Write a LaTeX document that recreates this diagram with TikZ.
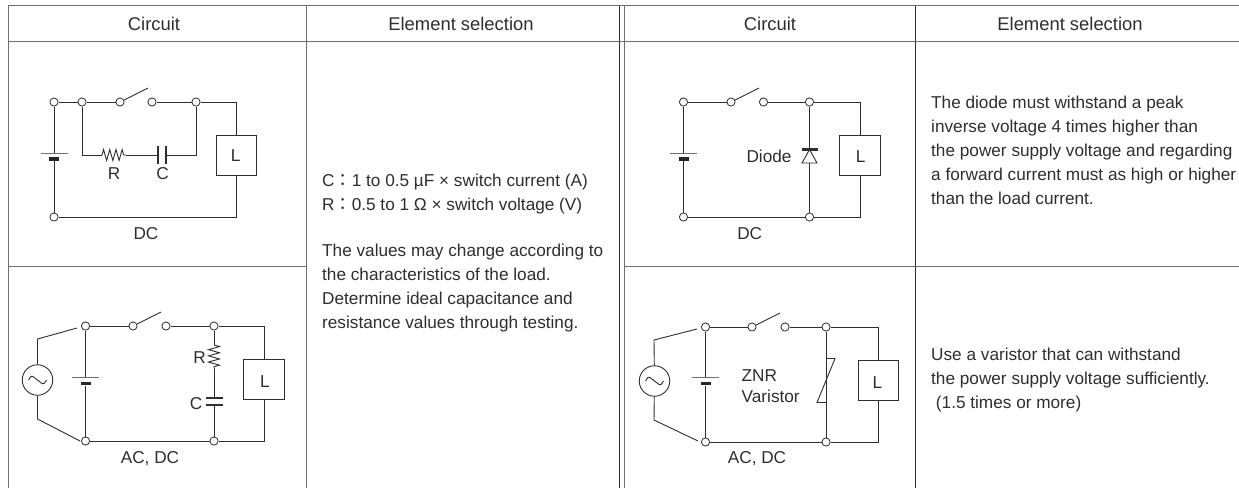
\documentclass[tikz,border=0pt]{standalone}
\usepackage{fontspec}
\setmainfont{Liberation Sans}
\newfontfamily\cjkfont{Noto Sans CJK JP}
\usetikzlibrary{decorations.pathmorphing}

\definecolor{inkgray}{HTML}{2E2E2E}
\definecolor{rulegray}{HTML}{6E6E6E}

\tikzset{
    term/.style={circle,draw=inkgray,fill=white,line width=0.8pt,minimum size=8.2pt,inner sep=0pt},
    load/.style={rectangle,draw=inkgray,fill=white,line width=1pt,minimum width=40.5pt,minimum height=40pt,inner sep=0pt},
    platelong/.style={rectangle,fill=rulegray,minimum width=27pt,minimum height=0.9pt,inner sep=0pt},
    platebar/.style={rectangle,fill=black!85,minimum width=10pt,minimum height=3.6pt,inner sep=0pt},
    capv/.style={rectangle,fill=inkgray,minimum width=1.6pt,minimum height=18pt,inner sep=0pt},
    caph/.style={rectangle,fill=inkgray,minimum width=17pt,minimum height=1.6pt,inner sep=0pt},
    source/.style={circle,draw=inkgray,line width=0.9pt,minimum size=30.5pt,inner sep=0pt},
    wire/.style={draw=inkgray,line width=0.9pt},
    resist/.style={wire,decorate,decoration={zigzag,amplitude=5.5pt,segment length=6.2pt}},
    txt/.style={text=inkgray,inner sep=0pt,font=\fontsize{17.2}{24}\selectfont},
    head/.style={text=inkgray,inner sep=0pt,font=\fontsize{18.4}{24}\selectfont},
    para/.style={txt,anchor=north west,align=left},
}

\begin{document}
\begin{tikzpicture}[x=1pt,y=-1pt]
    \useasboundingbox (0,0) rectangle (1239,488);

    % draw table rules
    \foreach \x in {8,306,624.6}
    \draw[rulegray,line width=1pt] (\x,5.5) -- (\x,488);
    \foreach \x in {619.7,915.5}
    \draw[inkgray,line width=1pt] (\x,5.5) -- (\x,488);
    \foreach \y in {5.5,41}
    \draw[rulegray,line width=1pt] (8,\y) -- (1239,\y);
    \draw[rulegray,line width=1pt] (8,266) -- (306,266);
    \draw[rulegray,line width=1pt] (624.6,266) -- (1239,266);

    % draw headers
    \node[head] (headA) at (154,24) {Circuit};
    \node[head] (headB) at (461,24) {Element selection};
    \node[head] (headC) at (770,24) {Circuit};
    \node[head] (headD) at (1070,24) {Element selection};

    % draw circuit with R and C, DC
    \node[term] (a1) at (54,102) {};
    \node[term] (a2) at (82,102) {};
    \node[term] (a3) at (120,102) {};
    \node[term] (a4) at (152,102) {};
    \node[term] (a5) at (196,102) {};
    \node[term] (a6) at (54,217) {};
    \node[load] (loadA) at (236.5,155) {};
    \node[txt] (loadAtxt) at (235.7,156) {L};
    \node[platelong] (batAp) at (54,153.5) {};
    \node[platebar] (batAn) at (54,159) {};
    \coordinate (swA) at (148,88);
    \coordinate (cnrA1) at (82,155);
    \coordinate (resA1) at (102,155);
    \coordinate (resA2) at (126,155);
    \node[capv] (capA1) at (158,155) {};
    \node[capv] (capA2) at (166,155) {};
    \coordinate (cnrA2) at (196,155);
    \draw[wire] (a1) -- (a2);
    \draw[wire] (a2) -- (a3);
    \draw[wire] (a3) -- (swA);
    \draw[wire] (a4) -- (a5);
    \draw[wire] (a5) -| (loadA);
    \draw[wire] (a6) -| (loadA);
    \draw[wire] (a1) -- (batAp);
    \draw[wire] (batAn) -- (a6);
    \draw[wire] (a2) -- (cnrA1) -- (resA1);
    \draw[resist] (resA1) -- (resA2);
    \draw[wire] (resA2) -- (capA1);
    \draw[wire] (capA2) -- (cnrA2) -- (a5);
    \node[txt] (labRa) at (114,174) {R};
    \node[txt] (labCa) at (162.5,174) {C};
    \node[txt] (labDCa) at (146,233.5) {DC};

    % draw circuit with R and C, AC
    \node[term] (b1) at (85.5,326) {};
    \node[term] (b2) at (133,326) {};
    \node[term] (b3) at (166,326) {};
    \node[term] (b4) at (214,326) {};
    \node[term] (b5) at (85.5,441) {};
    \node[term] (b6) at (214,441) {};
    \node[load] (loadB) at (264,379) {};
    \node[txt] (loadBtxt) at (265,381.5) {L};
    \node[source] (srcB) at (37.5,380) {};
    \node[platelong] (batBp) at (85.5,377.5) {};
    \node[platebar] (batBn) at (85.5,383.5) {};
    \coordinate (swB) at (161,312);
    \coordinate (leadB1) at (37.5,339);
    \coordinate (leadB2) at (77,328);
    \coordinate (leadB3) at (37.5,419);
    \coordinate (leadB4) at (80,441);
    \coordinate (resB1) at (214,345);
    \coordinate (resB2) at (214,368);
    \node[caph] (capB1) at (214,398) {};
    \node[caph] (capB2) at (214,405) {};
    \draw[wire] (b1) -- (b2);
    \draw[wire] (b2) -- (swB);
    \draw[wire] (b3) -- (b4);
    \draw[wire] (b4) -| (loadB);
    \draw[wire] (b5) -- (b6);
    \draw[wire] (b6) -| (loadB);
    \draw[wire] (b1) -- (batBp);
    \draw[wire] (batBn) -- (b5);
    \draw[wire] (srcB) -- (leadB1) -- (leadB2);
    \draw[wire] (srcB) -- (leadB3) -- (leadB4);
    \draw[wire] (b4) -- (resB1);
    \draw[resist] (resB1) -- (resB2);
    \draw[wire] (resB2) -- (capB1);
    \draw[wire] (capB2) -- (b6);
    \node[txt] (labRb) at (199.5,358) {R};
    \node[txt] (labCb) at (196,403.3) {C};
    \node[txt] (labDCb) at (150,459) {AC, DC};

    % draw circuit with diode
    \node[term] (c1) at (683.5,102) {};
    \node[term] (c2) at (731,102) {};
    \node[term] (c3) at (763.5,102) {};
    \node[term] (c4) at (809.5,102) {};
    \node[term] (c5) at (683.5,217) {};
    \node[term] (c6) at (809.5,217) {};
    \node[load] (loadC) at (860,155) {};
    \node[txt] (loadCtxt) at (860.7,156.5) {L};
    \node[platelong] (batCp) at (683.5,153.5) {};
    \node[platebar] (batCn) at (683.5,159) {};
    \coordinate (swC) at (759,88);
    \coordinate (dioTop) at (809.5,149.5);
    \coordinate (dioBase) at (809.5,163);
    \draw[wire] (c1) -- (c2);
    \draw[wire] (c2) -- (swC);
    \draw[wire] (c3) -- (c4);
    \draw[wire] (c4) -| (loadC);
    \draw[wire] (c5) -- (c6);
    \draw[wire] (c6) -| (loadC);
    \draw[wire] (c1) -- (batCp);
    \draw[wire] (batCn) -- (c5);
    \draw[wire] (c4) -- (dioTop);
    \draw[wire] (dioBase) -- (c6);
    \draw[wire] (dioTop) -- ++(-7.5,13.5) -- ++(15,0) -- cycle;
    \fill[inkgray] (802,148.3) rectangle (817.5,150.7);
    \node[txt] (labDio) at (769,156) {Diode};
    \node[txt] (labDCc) at (749.7,234) {DC};

    % draw circuit with varistor
    \node[term] (d1) at (705.5,327) {};
    \node[term] (d2) at (752,327) {};
    \node[term] (d3) at (785,327) {};
    \node[term] (d4) at (826,327) {};
    \node[term] (d5) at (705.5,442) {};
    \node[term] (d6) at (826,442) {};
    \node[load] (loadD) at (878.3,380.3) {};
    \node[txt] (loadDtxt) at (877.5,382.5) {L};
    \node[source] (srcD) at (654.5,381) {};
    \node[platelong] (batDp) at (705.5,377.5) {};
    \node[platebar] (batDn) at (705.5,383.5) {};
    \coordinate (swD) at (780,313);
    \coordinate (leadD1) at (654,340);
    \coordinate (leadD2) at (697,329);
    \coordinate (leadD3) at (654,420);
    \coordinate (leadD4) at (698,441);
    \coordinate (varA) at (826,358.5);
    \coordinate (varB) at (835,358.5);
    \coordinate (varC) at (817,402.5);
    \coordinate (varD) at (826,402.5);
    \draw[wire] (d1) -- (d2);
    \draw[wire] (d2) -- (swD);
    \draw[wire] (d3) -- (d4);
    \draw[wire] (d4) -| (loadD);
    \draw[wire] (d5) -- (d6);
    \draw[wire] (d6) -| (loadD);
    \draw[wire] (d1) -- (batDp);
    \draw[wire] (batDn) -- (d5);
    \draw[wire] (srcD) -- (leadD1) -- (leadD2);
    \draw[wire] (srcD) -- (leadD3) -- (leadD4);
    \draw[wire] (d4) -- (d6);
    \draw[wire] (varA) -- (varB) -- (varC) -- (varD);
    \node[txt,anchor=west] (labZnr) at (741.5,376) {ZNR};
    \node[txt,anchor=west] (labVar) at (741.5,396) {Varistor};
    \node[txt] (labDCd) at (757,459) {AC, DC};

    % draw sine marks
    \foreach \s in {srcB,srcD}
    \draw[wire] ([xshift=-9pt]\s.center) .. controls +(4,-7) and +(-5,-3) .. (\s.center) .. controls +(5,3) and +(-4,7) .. ([xshift=9pt]\s.center);

    % draw notes
    \node[para] (noteA) at (322,174) {C{\cjkfont ：}1 to 0.5 µF × switch current (A)\\
        R{\cjkfont ：}0.5 to 1 Ω × switch voltage (V)\\[22pt]
        The values may change according to\\
        the characteristics of the load.\\
        Determine ideal capacitance and\\
        resistance values through testing.};
    \node[para] (noteB) at (931,95.7) {The diode must withstand a peak\\
        inverse voltage 4 times higher than\\
        the power supply voltage and regarding\\
        a forward current must as high or higher\\
        than the load current.};
    \node[para] (noteC) at (931,347.4) {Use a varistor that can withstand\\
        the power supply voltage sufficiently.\\
        \ (1.5 times or more)};
\end{tikzpicture}
\end{document}
